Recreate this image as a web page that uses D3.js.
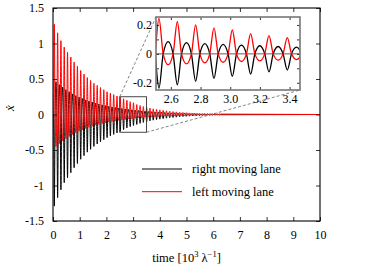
<!DOCTYPE html>
<html>
<head>
<meta charset="utf-8">
<script src="https://cdn.jsdelivr.net/npm/d3@7"></script>
<style>
  body { margin: 0; background: #fff; }
  svg { display: block; font-family: "Liberation Serif", "DejaVu Serif", serif; }
</style>
</head>
<body>
<svg id="chart" width="375" height="271"></svg>
<script>
// time axis ticks and value ticks
var xTicks = [0, 1, 2, 3, 4, 5, 6, 7, 8, 9, 10];
var yTicks = [-1.5, -1, -0.5, 0, 0.5, 1, 1.5];
var insetXTicks = [2.6, 2.8, 3.0, 3.2, 3.4];
var insetYTicks = [-0.2, -0.1, 0, 0.1, 0.2];
var insetYLabels = [-0.2, 0, 0.2];

// oscillation: one spike + one broad lobe per cycle
var firstSpike = 0.05;      // time of the first spike
var period = 0.1235;        // spacing of the spikes
var wavePhase = [-0.23, 0, 0.23, 0.5];  // zero, spike, zero, lobe (fraction of period)

// left moving lane (red): spike heights (positive) and lobe depths (negative)
var redSpikes = [1.27,1.15,1.04,0.95,0.88,0.81,0.74,0.68,0.62,0.57,
  0.52,0.48,0.44,0.41,0.38,0.35,0.32,0.30,0.28,0.26,
  0.245,0.222,0.20,0.18,0.165,0.14,0.126,0.112,0.10,0.09,
  0.08,0.072,0.065,0.058,0.052,0.046,0.041,0.037,0.033,0.029,
  0.026,0.023,0.02,0.018,0.016,0.014,0.012,0.011,0.01,0.009,0.008];
var redLobes = [0.45,0.41,0.37,0.34,0.31,0.28,0.255,0.235,0.215,0.195,
  0.18,0.165,0.15,0.138,0.127,0.117,0.107,0.098,0.09,0.082,
  0.075,0.069,0.063,0.058,0.053,0.048,0.044,0.04,0.037,0.033,
  0.03,0.028,0.025,0.023,0.021,0.019,0.017,0.015,0.014,0.013,
  0.012,0.011,0.01,0.009,0.008,0.007,0.006,0.006,0.005,0.005,0.004];

// right moving lane (black): spike depths (negative) and lobe heights (positive)
var blackSpikes = [1.29,1.17,1.06,0.96,0.89,0.82,0.75,0.69,0.63,0.58,
  0.53,0.49,0.45,0.415,0.385,0.355,0.325,0.30,0.28,0.26,
  0.237,0.214,0.19,0.17,0.155,0.14,0.125,0.112,0.1,0.09,
  0.08,0.072,0.065,0.058,0.052,0.046,0.041,0.037,0.033,0.029,
  0.026,0.023,0.021,0.019,0.017,0.015,0.013,0.011,0.01,0.009,0.008];
var blackLobes = [0.46,0.42,0.385,0.35,0.32,0.29,0.265,0.245,0.225,0.205,
  0.19,0.175,0.16,0.148,0.136,0.125,0.115,0.106,0.098,0.091,
  0.085,0.078,0.071,0.066,0.061,0.056,0.051,0.047,0.043,0.039,
  0.035,0.032,0.029,0.027,0.024,0.022,0.02,0.018,0.016,0.015,
  0.013,0.012,0.011,0.01,0.009,0.008,0.007,0.006,0.006,0.005,0.004];

var tEnd = 10;
var zoomBox = { x0: 2.5, x1: 3.5, y0: -0.25, y1: 0.25 };
var insetXDomain = [2.5, 3.47];
var insetYDomain = [-0.25, 0.255];

var lanes = [
  { name: "right moving lane", color: "#000000", spikes: blackSpikes, lobes: blackLobes, sign: -1 },
  { name: "left moving lane", color: "#ff0000", spikes: redSpikes, lobes: redLobes, sign: 1 }
];

function wave(lane) {
  var pts = [[0, 0]];
  lane.spikes.forEach(function(a, k) {
    var t = firstSpike + k * period;
    var vals = [0, a, 0, -lane.lobes[k]];
    wavePhase.forEach(function(p, i) {
      pts.push([t + p * period, lane.sign * vals[i]]);
    });
  });
  pts.push([tEnd, 0]);
  return pts;
}

var svg = d3.select("#chart");

var x = d3.scaleLinear().domain([0, 10]).range([53, 320]);
var y = d3.scaleLinear().domain([-1.5, 1.5]).range([221, 8]);

var defs = svg.append("defs");
defs.append("clipPath").attr("id", "mainClip").append("rect")
  .attr("x", x(0)).attr("y", y(1.5))
  .attr("width", x(10) - x(0)).attr("height", y(-1.5) - y(1.5));

var line = d3.line()
  .x(function(d) { return x(d[0]); })
  .y(function(d) { return y(d[1]); })
  .curve(d3.curveMonotoneX);

var plot = svg.append("g").attr("clip-path", "url(#mainClip)");
lanes.forEach(function(lane) {
  plot.append("path")
    .attr("d", line(wave(lane)))
    .attr("fill", "none")
    .attr("stroke", lane.color)
    .attr("stroke-width", 1);
});

// zoom box on the main plot
svg.append("rect")
  .attr("x", x(zoomBox.x0)).attr("y", y(zoomBox.y1))
  .attr("width", x(zoomBox.x1) - x(zoomBox.x0))
  .attr("height", y(zoomBox.y0) - y(zoomBox.y1))
  .attr("fill", "none").attr("stroke", "#333").attr("stroke-width", 0.9);

// inset
var ix = d3.scaleLinear().domain(insetXDomain).range([156, 300]);
var iy = d3.scaleLinear().domain(insetYDomain).range([90, 17]);

svg.append("line")
  .attr("x1", x(zoomBox.x0)).attr("y1", y(zoomBox.y1))
  .attr("x2", ix.range()[0]).attr("y2", iy.range()[1])
  .attr("stroke", "#666").attr("stroke-width", 0.8).attr("stroke-dasharray", "3,2");
svg.append("line")
  .attr("x1", x(zoomBox.x1)).attr("y1", y(zoomBox.y0))
  .attr("x2", ix.range()[1]).attr("y2", iy.range()[0])
  .attr("stroke", "#666").attr("stroke-width", 0.8).attr("stroke-dasharray", "3,2");

defs.append("clipPath").attr("id", "insetClip").append("rect")
  .attr("x", ix.range()[0]).attr("y", iy.range()[1])
  .attr("width", ix.range()[1] - ix.range()[0]).attr("height", iy.range()[0] - iy.range()[1]);

var inset = svg.append("g");
inset.append("rect")
  .attr("x", ix.range()[0]).attr("y", iy.range()[1])
  .attr("width", ix.range()[1] - ix.range()[0]).attr("height", iy.range()[0] - iy.range()[1])
  .attr("fill", "#fff");

var iline = d3.line()
  .x(function(d) { return ix(d[0]); })
  .y(function(d) { return iy(d[1]); })
  .curve(d3.curveMonotoneX);

var iplot = inset.append("g").attr("clip-path", "url(#insetClip)");
iplot.append("line")
  .attr("x1", ix.range()[0]).attr("x2", ix.range()[1])
  .attr("y1", iy(0)).attr("y2", iy(0))
  .attr("stroke", "#333").attr("stroke-width", 0.8);
lanes.forEach(function(lane) {
  iplot.append("path")
    .attr("d", iline(wave(lane)))
    .attr("fill", "none")
    .attr("stroke", lane.color)
    .attr("stroke-width", 1.3);
});

function styleAxis(g) {
  g.select(".domain").remove();
  g.selectAll(".tick line").attr("stroke", "#000").attr("stroke-width", 0.8);
  g.selectAll("text").attr("font-family", "Liberation Serif, serif").attr("font-size", 12).attr("fill", "#000");
}

var fmt = function(d) { return String(d).replace("\u2212", "-"); };

inset.append("g").attr("transform", "translate(0," + iy.range()[0] + ")")
  .call(d3.axisBottom(ix).tickValues(insetXTicks).tickSize(-3).tickPadding(4).tickFormat(d3.format(".1f")))
  .call(styleAxis);
inset.append("g").attr("transform", "translate(0," + iy.range()[1] + ")")
  .call(d3.axisTop(ix).tickValues(insetXTicks).tickSize(-3).tickFormat(""))
  .call(styleAxis);
inset.append("g").attr("transform", "translate(" + ix.range()[0] + ",0)")
  .call(d3.axisLeft(iy).tickValues(insetYTicks).tickSize(-3).tickPadding(4)
    .tickFormat(function(d) { return insetYLabels.indexOf(d) >= 0 ? fmt(d) : ""; }))
  .call(styleAxis);
inset.append("g").attr("transform", "translate(" + ix.range()[1] + ",0)")
  .call(d3.axisRight(iy).tickValues(insetYTicks).tickSize(-3).tickFormat(""))
  .call(styleAxis);

inset.append("rect")
  .attr("x", ix.range()[0]).attr("y", iy.range()[1])
  .attr("width", ix.range()[1] - ix.range()[0]).attr("height", iy.range()[0] - iy.range()[1])
  .attr("fill", "none").attr("stroke", "#777").attr("stroke-width", 1.6);

// legend
var legend = svg.append("g").attr("transform", "translate(142,169)");
lanes.forEach(function(lane, i) {
  var row = legend.append("g").attr("transform", "translate(0," + (i * 22.7) + ")");
  row.append("line").attr("x1", 0).attr("x2", 40).attr("y1", 0).attr("y2", 0)
    .attr("stroke", lane.color).attr("stroke-width", 1);
  row.append("text").attr("x", 50).attr("y", 4)
    .attr("font-size", 12.5).attr("fill", "#000").text(lane.name);
});

// main axes
svg.append("g").attr("transform", "translate(0," + y(-1.5) + ")")
  .call(d3.axisBottom(x).tickValues(xTicks).tickSize(-4).tickPadding(9).tickFormat(d3.format("d")))
  .call(styleAxis);
svg.append("g").attr("transform", "translate(0," + y(1.5) + ")")
  .call(d3.axisTop(x).tickValues(xTicks).tickSize(-4).tickFormat(""))
  .call(styleAxis);
svg.append("g").attr("transform", "translate(" + x(0) + ",0)")
  .call(d3.axisLeft(y).tickValues(yTicks).tickSize(-4).tickPadding(9).tickFormat(fmt))
  .call(styleAxis);
svg.append("g").attr("transform", "translate(" + x(10) + ",0)")
  .call(d3.axisRight(y).tickValues(yTicks).tickSize(-4).tickFormat(""))
  .call(styleAxis);

svg.append("rect")
  .attr("x", x(0)).attr("y", y(1.5))
  .attr("width", x(10) - x(0)).attr("height", y(-1.5) - y(1.5))
  .attr("fill", "none").attr("stroke", "#000").attr("stroke-width", 1.1);

// axis titles
var xt = svg.append("text")
  .attr("x", (x(0) + x(10)) / 2).attr("y", 262)
  .attr("text-anchor", "middle").attr("font-size", 12.5).attr("fill", "#000");
xt.append("tspan").text("time [10");
xt.append("tspan").attr("font-size", 8.5).attr("dy", -5).text("3");
xt.append("tspan").attr("dy", 5).text(" \u03bb");
xt.append("tspan").attr("font-size", 8.5).attr("dy", -5).text("\u22121");
xt.append("tspan").attr("dy", 5).text("]");

svg.append("text")
  .attr("transform", "translate(14,108) rotate(-90)")
  .attr("text-anchor", "middle").attr("font-size", 13).attr("font-style", "italic")
  .attr("fill", "#000").text("\u1e8b");
</script>
</body>
</html>
